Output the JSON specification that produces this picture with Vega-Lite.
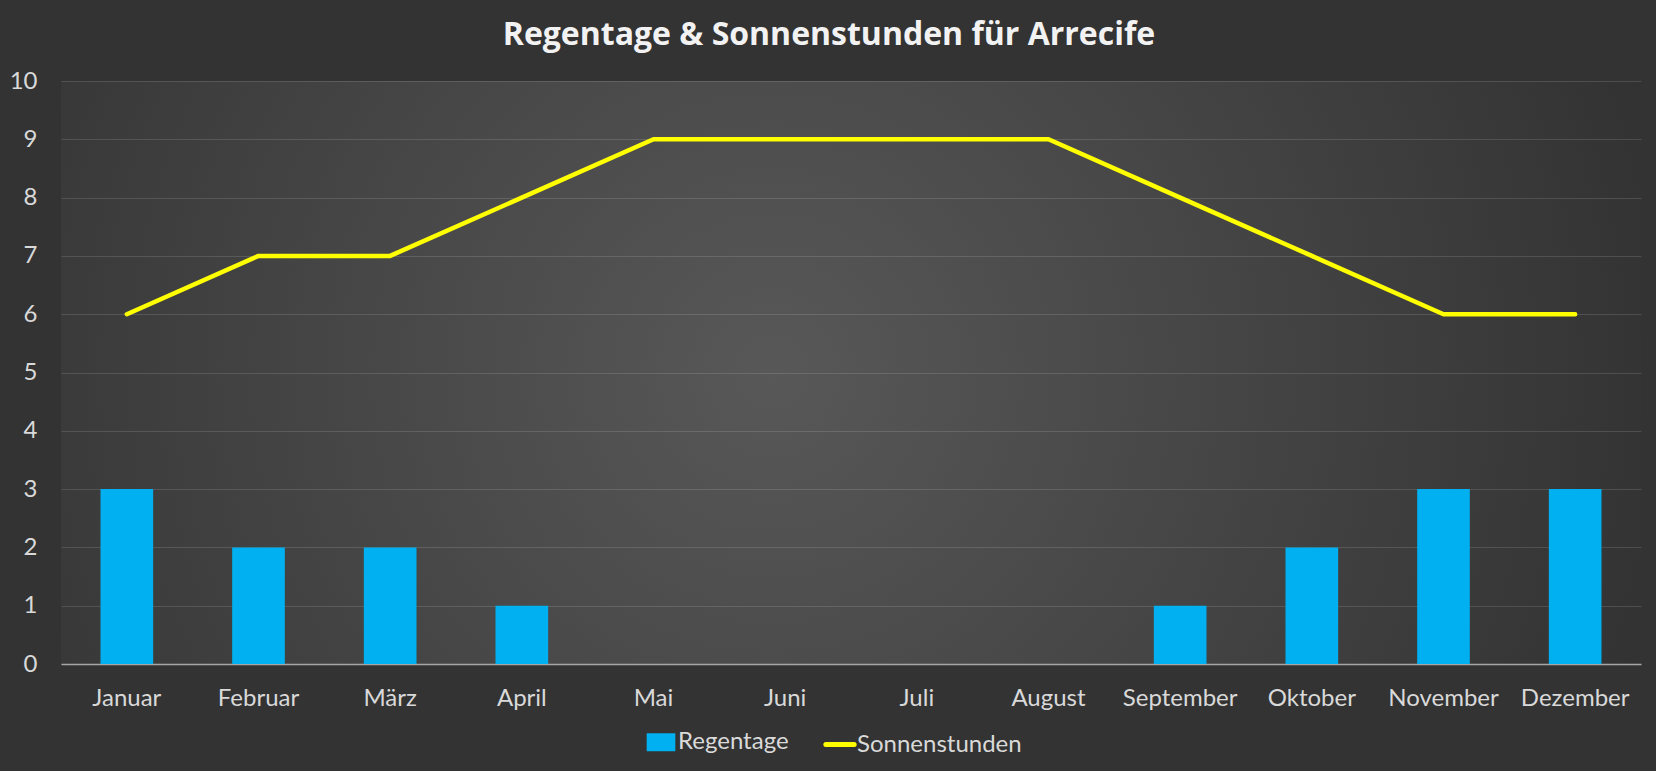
{
  "$schema": "https://vega.github.io/schema/vega-lite/v6.json",
  "width": 1580,
  "height": 583,
  "autosize": {"type": "none"},
  "padding": {"left": 61, "top": 81, "right": 15, "bottom": 107},
  "background": "#333333",
  "title": {
    "text": "Regentage & Sonnenstunden für Arrecife",
    "font": "Open Sans",
    "fontSize": 32,
    "fontWeight": "bold",
    "color": "#f2f2f2",
    "anchor": "middle",
    "dx": -22,
    "offset": 17
  },
  "data": {
    "values": [
      {"Monat": "Januar", "Regentage": 3, "Sonnenstunden": 6},
      {"Monat": "Februar", "Regentage": 2, "Sonnenstunden": 7},
      {"Monat": "März", "Regentage": 2, "Sonnenstunden": 7},
      {"Monat": "April", "Regentage": 1, "Sonnenstunden": 8},
      {"Monat": "Mai", "Regentage": 0, "Sonnenstunden": 9},
      {"Monat": "Juni", "Regentage": 0, "Sonnenstunden": 9},
      {"Monat": "Juli", "Regentage": 0, "Sonnenstunden": 9},
      {"Monat": "August", "Regentage": 0, "Sonnenstunden": 9},
      {"Monat": "September", "Regentage": 1, "Sonnenstunden": 8},
      {"Monat": "Oktober", "Regentage": 2, "Sonnenstunden": 7},
      {"Monat": "November", "Regentage": 3, "Sonnenstunden": 6},
      {"Monat": "Dezember", "Regentage": 3, "Sonnenstunden": 6}
    ]
  },
  "encoding": {
    "x": {
      "field": "Monat",
      "type": "nominal",
      "sort": null,
      "title": null,
      "scale": {"paddingInner": 0.6, "paddingOuter": 0.3},
      "axis": {
        "labelAngle": 0,
        "labelFont": "Lato",
        "labelFontSize": 24,
        "labelColor": "#d9d9d9",
        "labelPadding": 22,
        "ticks": false,
        "domainColor": "#a6a6a6",
        "domainWidth": 1.5,
        "grid": false
      }
    }
  },
  "layer": [
    {
      "mark": {"type": "bar", "color": "#00b0f0"},
      "encoding": {
        "y": {
          "field": "Regentage",
          "type": "quantitative",
          "title": null,
          "scale": {"domain": [0, 10]},
          "axis": {
            "values": [0, 1, 2, 3, 4, 5, 6, 7, 8, 9, 10],
            "format": "d",
            "labelFont": "Lato",
            "labelFontSize": 24,
            "labelColor": "#d9d9d9",
            "labelPadding": 24,
            "ticks": false,
            "domain": false,
            "gridColor": "#ffffff",
            "gridOpacity": 0.13,
            "gridWidth": 1
          }
        },
        "color": {
          "datum": "Regentage",
          "type": "nominal",
          "scale": {"domain": ["Regentage", "Sonnenstunden"], "range": ["#00b0f0", "#ffff00"]},
          "legend": {
            "title": null,
            "orient": "none",
            "direction": "horizontal",
            "legendX": 583,
            "legendY": 644,
            "labelFont": "Lato",
            "labelFontSize": 24,
            "labelColor": "#d9d9d9",
            "labelLimit": 400,
            "labelOffset": 0,
            "columnPadding": 26,
            "symbolSize": 600,
            "encode": {
              "symbols": {
                "update": {
                  "shape": {"signal": "datum.value === 'Regentage' ? 'M-1,-0.55H1V0.55H-1Z' : 'stroke'"},
                  "size": {"signal": "datum.value === 'Regentage' ? 560 : 800"},
                  "fill": {"signal": "datum.value === 'Regentage' ? '#00b0f0' : 'transparent'"},
                  "stroke": {"signal": "datum.value === 'Regentage' ? 'transparent' : '#ffff00'"},
                  "strokeWidth": {"value": 5},
                  "strokeCap": {"value": "round"},
                  "opacity": {"value": 1}
                }
              }
            }
          }
        }
      }
    },
    {
      "mark": {"type": "line", "strokeWidth": 4.5, "strokeCap": "round", "strokeJoin": "round"},
      "encoding": {
        "y": {"field": "Sonnenstunden", "type": "quantitative"},
        "color": {"datum": "Sonnenstunden", "type": "nominal"}
      }
    }
  ],
  "config": {
    "view": {
      "stroke": null,
      "fill": {
        "gradient": "radial",
        "x1": 0.45, "y1": 0.5, "r1": 0,
        "x2": 0.45, "y2": 0.5, "r2": 0.75,
        "stops": [
          {"offset": 0, "color": "#585858"},
          {"offset": 1, "color": "#272727"}
        ]
      }
    }
  }
}
